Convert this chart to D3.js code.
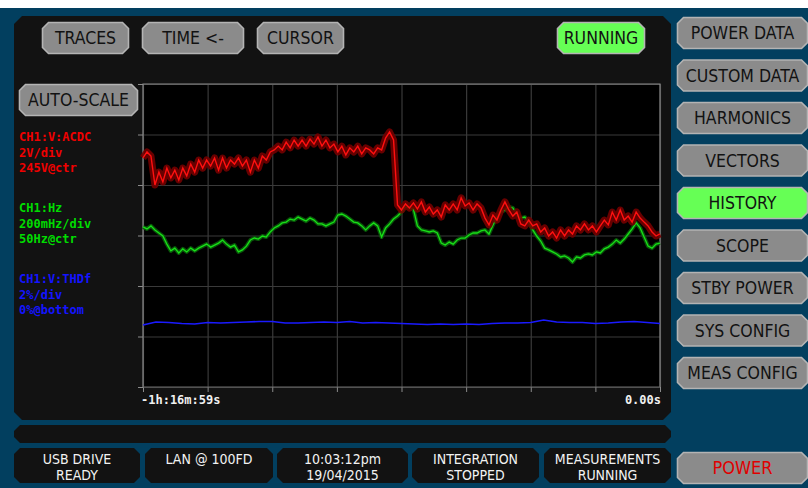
<!DOCTYPE html>
<html><head><meta charset="utf-8">
<script src="https://cdn.jsdelivr.net/npm/d3@7"></script>
<style>
html,body{margin:0;padding:0;background:#fff;}
svg{display:block;}
</style></head><body>
<svg id="chart" width="808" height="488"></svg>
<script>
// ---------------- DATA ----------------
const timeSpanSec = 4619; // history window: -1h:16m:59s .. 0.00s
const xTickLabels = ["-1h:16m:59s", "0.00s"];

// CH1:V:ACDC  (V), 2V/div, 245V @ centre
const redValues = [248.07,248.31,248.15,247.00,247.51,247.12,247.67,247.28,247.59,247.20,
 247.67,247.36,247.83,247.51,247.99,247.67,247.99,247.75,248.07,247.59,
 248.07,247.67,247.99,247.83,248.07,247.75,247.99,247.51,247.99,247.67,
 248.15,247.99,248.31,248.39,248.54,248.39,248.70,248.47,248.78,248.54,
 248.78,248.54,248.82,248.62,248.90,248.54,248.78,248.47,248.62,248.31,
 248.54,248.19,248.47,248.31,248.54,248.23,248.47,248.39,248.23,248.47,
 248.39,248.86,249.10,248.78,246.21,246.01,246.25,246.09,246.29,246.05,
 246.33,245.93,246.13,245.85,246.01,245.73,246.21,246.01,246.25,246.01,
 246.49,246.17,246.29,246.01,246.25,246.09,245.69,245.42,245.81,245.61,
 246.01,246.33,246.01,245.77,245.93,245.46,245.38,245.61,245.38,245.46,
 245.14,245.30,244.98,245.14,244.90,245.22,244.98,245.22,245.06,245.38,
 245.22,245.46,245.22,245.38,245.14,245.38,245.61,245.42,245.93,245.61,
 246.01,245.61,245.77,245.53,245.93,245.69,245.53,245.38,245.14,244.98,245.06];

// CH1:Hz (Hz), 200mHz/div, 50Hz @ centre
const greenValues = [50.034,50.026,50.038,50.022,50.010,49.998,49.966,49.939,49.950,49.931,
 49.947,49.935,49.950,49.939,49.950,49.958,49.966,49.954,49.962,49.970,
 49.982,49.966,49.954,49.962,49.935,49.943,49.958,49.982,49.990,49.986,
 49.998,49.994,50.014,50.030,50.038,50.050,50.053,50.065,50.061,50.073,
 50.065,50.057,50.069,50.061,50.046,50.046,50.038,50.046,50.053,50.081,
 50.085,50.077,50.065,50.053,50.050,50.038,50.022,50.038,50.050,50.038,
 49.994,50.030,50.046,50.065,50.077,50.093,50.113,50.109,50.105,50.038,
 50.022,50.018,50.014,50.018,50.010,49.970,49.962,49.974,49.966,49.982,
 49.990,49.990,50.002,50.010,50.010,50.018,50.022,50.006,50.042,50.073,
 50.093,50.101,50.113,50.109,50.085,50.069,50.073,50.053,50.022,49.998,
 49.978,49.950,49.943,49.935,49.927,49.915,49.919,49.911,49.895,49.915,
 49.911,49.923,49.927,49.923,49.935,49.931,49.947,49.954,49.966,49.982,
 49.970,49.986,50.006,50.026,50.050,50.030,49.994,49.958,49.950,49.966,49.970];

// CH1:V:THDf (%), 2%/div, 0% @ bottom
const blueValues = [2.455,2.574,2.554,2.515,2.495,2.554,2.535,2.554,2.574,2.594,
 2.594,2.535,2.535,2.554,2.574,2.554,2.594,2.535,2.554,2.535,
 2.515,2.495,2.475,2.495,2.475,2.495,2.475,2.515,2.535,2.535,
 2.554,2.653,2.574,2.554,2.554,2.515,2.535,2.574,2.594,2.554,2.515];

const legendGroups = [
  {color:"#f00000", lines:["CH1:V:ACDC","2V/div","245V@ctr"]},
  {color:"#00dc00", lines:["CH1:Hz","200mHz/div","50Hz@ctr"]},
  {color:"#1414ff", lines:["CH1:V:THDf","2%/div","0%@bottom"]}
];
const topButtons = ["TRACES","TIME <-","CURSOR"];
const sideButtons = ["POWER DATA","CUSTOM DATA","HARMONICS","VECTORS","HISTORY","SCOPE","STBY POWER","SYS CONFIG","MEAS CONFIG"];
const activeSide = "HISTORY";
const statusItems = [["USB DRIVE","READY"],["LAN @ 100FD"],["10:03:12pm","19/04/2015"],["INTEGRATION","STOPPED"],["MEASUREMENTS","RUNNING"]];

// ---------------- DRAWING ----------------
const svg = d3.select("#chart");
const W = 808, H = 488;
const BG = "#023f5f", PANEL = "#121212";
const uiFont = "'DejaVu Sans Condensed','Liberation Sans Narrow',sans-serif";
const monoFont = "'DejaVu Sans Mono',monospace";

function chamfer(x,y,w,h,c){
  return `M${x+c},${y}H${x+w-c}L${x+w},${y+c}V${y+h-c}L${x+w-c},${y+h}H${x+c}L${x},${y+h-c}V${y+c}Z`;
}

svg.append("rect").attr("width",W).attr("height",H).attr("fill","#ffffff");
svg.append("rect").attr("x",0).attr("y",8).attr("width",W).attr("height",H-8).attr("fill",BG);

// main panel
svg.append("path").attr("d",chamfer(14,16,657,404,8)).attr("fill",PANEL);
// message bar
svg.append("path").attr("d",chamfer(14,425,657,18,6)).attr("fill",PANEL);

// buttons
function button(x,y,w,h,label,opts={}){
  const g = svg.append("g");
  g.append("path").attr("d",chamfer(x+0.5,y+0.5,w,h,6))
    .attr("fill",opts.fill||"#8b8b8b").attr("stroke",opts.stroke||"#b4b4b4").attr("stroke-width",1.6);
  g.append("text").attr("x",x+w/2+0.5).attr("y",y+h/2+6.5)
    .attr("text-anchor","middle").attr("font-family",uiFont)
    .attr("font-size",opts.size||17.5).attr("fill",opts.color||"#121212")
    .text(label);
}
const topBtnPos = [[42,86],[142,101],[257,86]];
topButtons.forEach((b,i)=>button(topBtnPos[i][0],22,topBtnPos[i][1],31,b));
button(557,22,87,31,"RUNNING",{fill:"#66ff55"});
button(19,84,118,31,"AUTO-SCALE");
sideButtons.forEach((b,i)=>button(677,17+42.5*i,130,31,b,
  b===activeSide?{fill:"#66ff55"}:{}));
button(677,452,130,31,"POWER",{color:"#e00000",size:18});

// status boxes
const statusX = [[14,126],[145,128],[277,131],[412,127],[544,127]];
statusItems.forEach((lines,i)=>{
  const [x,w] = statusX[i];
  svg.append("path").attr("d",chamfer(x,448,w,35,6)).attr("fill",PANEL);
  lines.forEach((t,j)=>{
    svg.append("text").attr("x",x+w/2).attr("y",464+j*15.5)
      .attr("text-anchor","middle").attr("font-family",uiFont)
      .attr("font-size",14).attr("fill","#f2f2f2").text(t);
  });
});

// plot area
const px0 = 143, px1 = 660, py0 = 84, py1 = 387;
svg.append("rect").attr("x",px0).attr("y",py0).attr("width",px1-px0).attr("height",py1-py0).attr("fill","#000");

const x = d3.scaleLinear().domain([-timeSpanSec,0]).range([px0,px1]);
const xDiv = d3.scaleLinear().domain([0,8]).range([px0,px1]);
const yDiv = d3.scaleLinear().domain([0,6]).range([py1,py0]);
const yRed = d3.scaleLinear().domain([239,251]).range([py1,py0]);
const yGreen = d3.scaleLinear().domain([49.4,50.6]).range([py1,py0]);
const yBlue = d3.scaleLinear().domain([0,12]).range([py1,py0]);

// grid via axes
const gx = svg.append("g").attr("transform",`translate(0,${py1})`)
  .call(d3.axisBottom(xDiv).tickValues(d3.range(0,9)).tickSize(-(py1-py0)).tickFormat(""));
const gy = svg.append("g").attr("transform",`translate(${px0},0)`)
  .call(d3.axisLeft(yDiv).tickValues(d3.range(0,7)).tickSize(-(px1-px0)).tickFormat(""));
[gx,gy].forEach(g=>{
  g.select(".domain").remove();
  g.selectAll(".tick line").attr("stroke","#3a3a3a").attr("stroke-width",1.2);
});
// outer ticks
svg.append("g").attr("transform",`translate(0,${py1})`)
  .call(d3.axisBottom(xDiv).tickValues(d3.range(0,9)).tickSize(5).tickSizeOuter(0).tickFormat(""))
  .call(g=>{g.select(".domain").remove(); g.selectAll(".tick line").attr("stroke","#8a8a8a");});
svg.append("g").attr("transform",`translate(${px0},0)`)
  .call(d3.axisLeft(yDiv).tickValues(d3.range(0,7)).tickSize(5).tickSizeOuter(0).tickFormat(""))
  .call(g=>{g.select(".domain").remove(); g.selectAll(".tick line").attr("stroke","#8a8a8a");});
// border
svg.append("path").attr("d",`M${px0},${py1}V${py0}H${px1}V${py1}`)
  .attr("fill","none").attr("stroke","#8a8a8a").attr("stroke-width",1.2);
svg.append("line").attr("x1",px0).attr("x2",px1).attr("y1",py1).attr("y2",py1)
  .attr("stroke","#6a6a6a").attr("stroke-width",1);

// traces
function trace(values, yScale, halo, color, haloW, w){
  const n = values.length;
  const t = i => -timeSpanSec + i*timeSpanSec/(n-1);
  const line = d3.line().x((d,i)=>x(t(i))).y(d=>yScale(d));
  if (halo) svg.append("path").datum(values).attr("d",line).attr("fill","none")
      .attr("stroke",halo).attr("stroke-width",haloW).attr("stroke-linejoin","round").attr("opacity",0.9);
  svg.append("path").datum(values).attr("d",line).attr("fill","none")
    .attr("stroke",color).attr("stroke-width",w).attr("stroke-linejoin","miter");
}
trace(blueValues, yBlue, null, "#1a1aff", 0, 1.6);
trace(greenValues, yGreen, "#0a5c0a", "#18e018", 4, 1.3);
trace(redValues, yRed, "#720000", "#ff1010", 7, 1.4);

// x labels
svg.append("text").attr("x",141).attr("y",404).attr("font-family",monoFont).attr("font-weight","bold")
  .attr("font-size",12).attr("fill","#f0f0f0").text(xTickLabels[0]);
svg.append("text").attr("x",661).attr("y",404).attr("text-anchor","end").attr("font-family",monoFont)
  .attr("font-weight","bold").attr("font-size",12).attr("fill","#f0f0f0").text(xTickLabels[1]);

// legend
legendGroups.forEach((g,gi)=>{
  g.lines.forEach((t,li)=>{
    svg.append("text").attr("x",19).attr("y",141+gi*71+li*15.5)
      .attr("font-family",monoFont).attr("font-weight","bold").attr("font-size",12)
      .attr("fill",g.color).text(t);
  });
});
</script>
</body></html>
